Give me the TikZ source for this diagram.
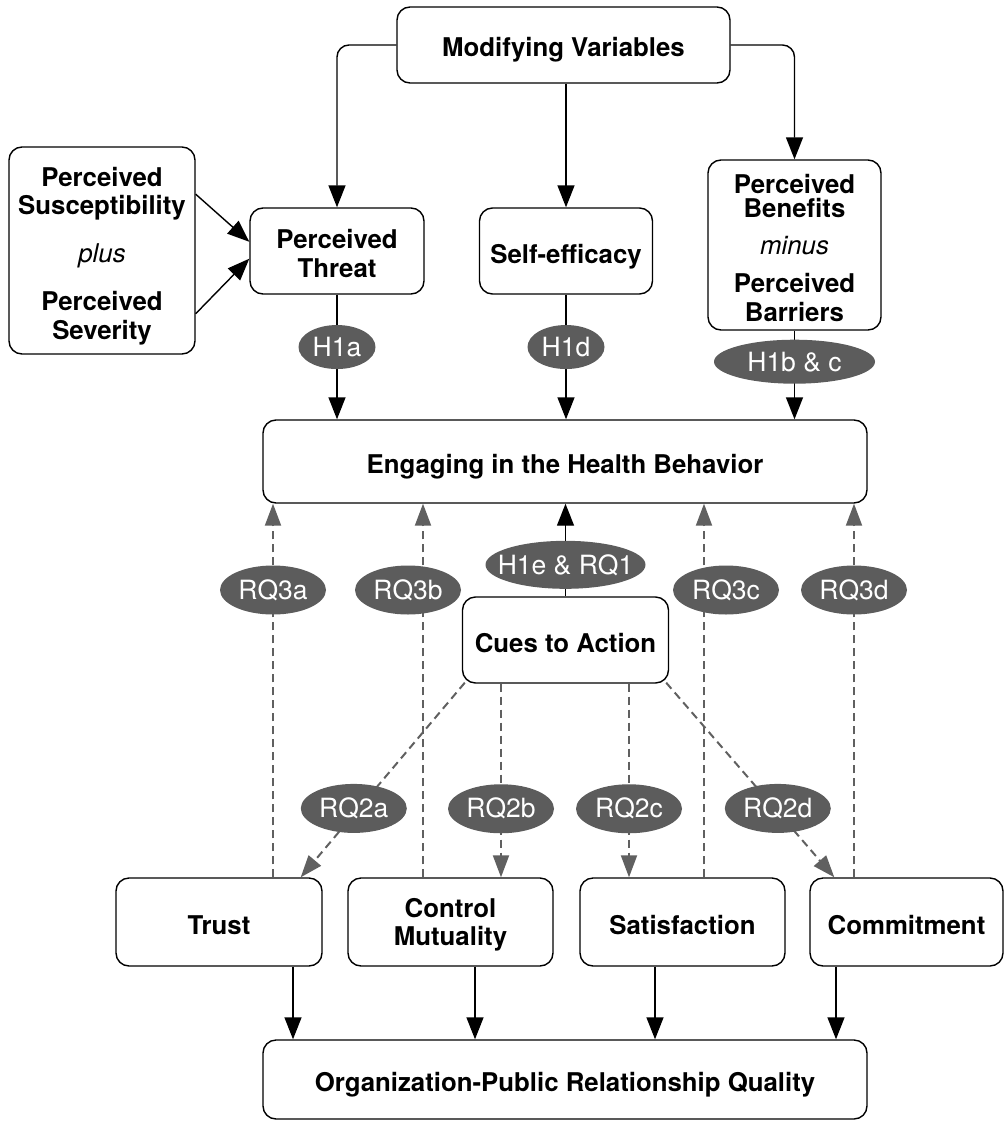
\documentclass[tikz,border=0pt]{standalone}
\usepackage{fontspec}
\setmainfont{TeX Gyre Heros}
\usetikzlibrary{shapes.geometric, arrows.meta, calc}
\definecolor{ovalgray}{RGB}{92,92,92}
\definecolor{dashgray}{RGB}{96,96,96}
\newcommand{\topstrut}[1]{\rule{0pt}{#1}}
\tikzset{
  box/.style={draw, line width=1.4pt, rounded corners=13pt, align=center, inner sep=2pt,
    text height=24pt, text depth=0pt,
    font=\fontsize{25.8}{28.5}\selectfont\bfseries},
  multibox/.style={box, text height=, text depth=},
  oval/.style={ellipse, fill=ovalgray, text=white, inner xsep=-12pt, inner ysep=0pt,
    font=\fontsize{26.5}{28}\selectfont},
  smalloval/.style={oval, minimum width=77pt, minimum height=44pt},
  rqoval/.style={oval, minimum width=106pt, minimum height=49pt},
  arr/.style={-{Triangle[length=22pt,width=17pt]}, line width=1.4pt},
  dasharr/.style={-{Triangle[length=22pt,width=16pt]}, draw=dashgray, line width=2pt,
    dash pattern=on 8pt off 5pt},
}
\begin{document}
\begin{tikzpicture}[x=1pt,y=-1pt]
  \useasboundingbox (0,0) rectangle (1007,1124);

  % health belief boxes
  \node[box, minimum width=333pt, minimum height=76pt] (mv) at (563.5,45) {Modifying Variables};
  \node[multibox, minimum width=186pt, minimum height=207pt] (susc) at (102,250.5)
    {\topstrut{30pt}Perceived\\Susceptibility\\[19.5pt]{\mdseries\itshape plus}\\[19.5pt]Perceived\\Severity};
  \node[multibox, minimum width=174pt, minimum height=86pt] (threat) at (337,251) {\topstrut{24pt}Perceived\\Threat};
  \node[box, minimum width=173pt, minimum height=86pt] (selfeff) at (566,251) {Self-efficacy};
  \node[multibox, minimum width=173pt, minimum height=170pt] (benef) at (794.5,245)
    {\topstrut{26pt}Perceived\\[-4.5pt]Benefits\\[8.5pt]{\mdseries\itshape minus}\\[9.5pt]Perceived\\[0.5pt]Barriers};
  \node[box, minimum width=604pt, minimum height=83pt] (engage) at (565,461.5) {Engaging in the Health Behavior};
  \node[box, minimum width=206pt, minimum height=86pt] (cues) at (565.5,640) {Cues to Action};

  % relationship boxes
  \node[box, minimum width=206pt, minimum height=88pt] (trust) at (219,922) {Trust};
  \node[multibox, minimum width=205pt, minimum height=88pt] (cm) at (450.5,922) {\topstrut{25pt}Control\\Mutuality};
  \node[box, minimum width=205pt, minimum height=88pt] (sat) at (682.5,922) {Satisfaction};
  \node[box, minimum width=193pt, minimum height=88pt] (commit) at (906.5,922) {Commitment};
  \node[box, minimum width=604pt, minimum height=79pt] (oprq) at (565,1079.5) {Organization-Public Relationship Quality};

  % modifying variables
  \draw[arr, rounded corners=12pt] (mv.west) -| (threat.north);
  \draw[arr, rounded corners=12pt] (mv.east) -| (benef.north);
  \draw[arr] (selfeff.north |- mv.south) -- (selfeff.north);
  \draw[arr] (susc.31) -- (threat.174);
  \draw[arr] (susc.-34) -- (threat.185);

  % hypotheses
  \draw[arr] (threat.south) -- node[smalloval, pos=.42] (h1a) {H1a} (threat.south |- engage.north);
  \draw[arr] (selfeff.south) -- node[smalloval, pos=.42] (h1d) {H1d} (selfeff.south |- engage.north);
  \draw[arr] (benef.south) -- node[oval, minimum width=161pt, minimum height=44pt, pos=.35] (h1bc) {H1b \& c}
    (benef.south |- engage.north);
  \draw[arr] (cues.north) -- node[oval, minimum width=160pt, minimum height=48pt, pos=.34] (h1e) {H1e \& RQ1}
    (cues.north |- engage.south);

  % research questions 3
  \draw[dasharr] ($(trust.north)+(54,0)$) coordinate (s3a) -- node[rqoval, pos=.769] (rq3a) {RQ3a} (s3a |- engage.south);
  \draw[dasharr] ($(cm.north)+(-27.5,0)$) coordinate (s3b) -- node[rqoval, pos=.769, xshift=-15pt] (rq3b) {RQ3b} (s3b |- engage.south);
  \draw[dasharr] ($(sat.north)+(21.5,0)$) coordinate (s3c) -- node[rqoval, pos=.769, xshift=22pt] (rq3c) {RQ3c} (s3c |- engage.south);
  \draw[dasharr] ($(commit.north)+(-52.5,0)$) coordinate (s3d) -- node[rqoval, pos=.769] (rq3d) {RQ3d} (s3d |- engage.south);

  % research questions 2
  \draw[dasharr] ($(cues.south west)+(3,-1)$) -- node[rqoval, pos=.646, xshift=-5pt] (rq2a) {RQ2a} ($(trust.north east)+(-22,0)$);
  \draw[dasharr] ($(cues.south)+(-64.5,0)$) coordinate (s2b) -- node[rqoval, pos=.646] (rq2b) {RQ2b} (s2b |- cm.north);
  \draw[dasharr] ($(cues.south)+(63.5,0)$) coordinate (s2c) -- node[rqoval, pos=.646] (rq2c) {RQ2c} (s2c |- sat.north);
  \draw[dasharr] ($(cues.south east)+(-3,-1)$) -- node[rqoval, pos=.646, xshift=3pt] (rq2d) {RQ2d} ($(commit.north west)+(25,0)$);

  % relationship quality
  \draw[arr] ($(trust.south)+(74,0)$) coordinate (q1) -- (q1 |- oprq.north);
  \draw[arr] ($(cm.south)+(24.5,0)$) coordinate (q2) -- (q2 |- oprq.north);
  \draw[arr] ($(sat.south)+(-27.5,0)$) coordinate (q3) -- (q3 |- oprq.north);
  \draw[arr] ($(commit.south)+(-70.5,0)$) coordinate (q4) -- (q4 |- oprq.north);
\end{tikzpicture}
\end{document}
